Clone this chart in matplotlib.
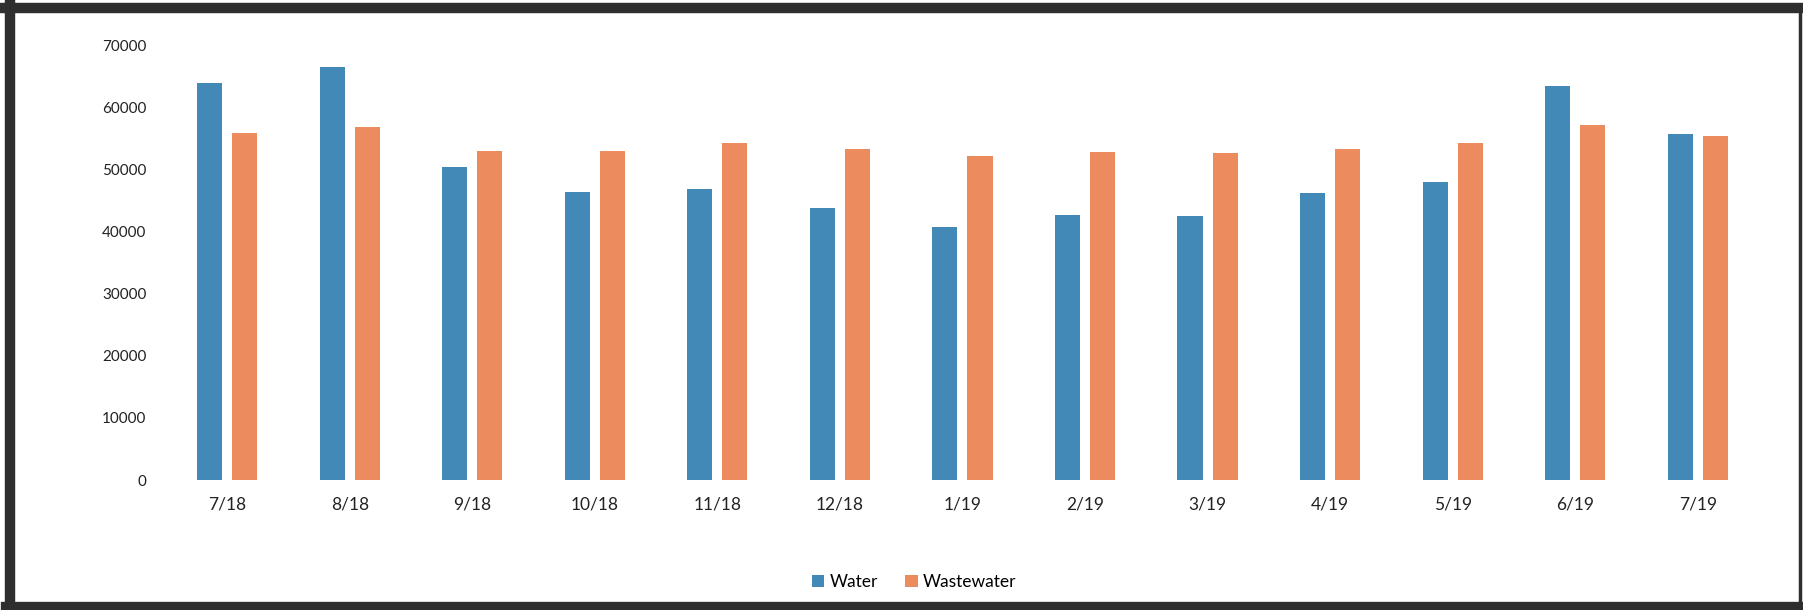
import numpy as np
import matplotlib.pyplot as plt
from matplotlib.lines import Line2D

months = ["7/18", "8/18", "9/18", "10/18", "11/18", "12/18", "1/19",
          "2/19", "3/19", "4/19", "5/19", "6/19", "7/19"]
water = [63900, 66500, 50400, 46400, 46900, 43800, 40800,
         42700, 42500, 46200, 48000, 63400, 55700]
wastewater = [55900, 56800, 53000, 53000, 54300, 53300, 52200,
              52800, 52600, 53300, 54300, 57200, 55400]
y_ticks = [0, 10000, 20000, 30000, 40000, 50000, 60000, 70000]

plt.rcParams["font.family"] = ["Lato", "DejaVu Sans"]

fig = plt.figure(figsize=(18.03, 6.10), dpi=100)
ax = fig.add_axes([0.092, 0.2131, 0.8836, 0.7129])

x = np.arange(len(months))
w = 0.205
ax.bar(x - 0.143, water, w, color="#4389b8", label="Water")
ax.bar(x + 0.143, wastewater, w, color="#ec8b5e", label="Wastewater")

ax.set_xlim(-0.5, len(months) - 0.5)
ax.set_ylim(0, 70000)
ax.set_yticks(y_ticks)
ax.set_yticklabels([str(t) for t in y_ticks], fontsize=11, color="#222222")
ax.set_xticks(x)
ax.set_xticklabels(months, fontsize=12.5, color="#222222")
ax.tick_params(length=0)
ax.tick_params(axis="y", pad=14)
ax.tick_params(axis="x", pad=12)
for s in ax.spines.values():
    s.set_visible(False)

fig.legend(loc="center", bbox_to_anchor=(0.507, 0.046), ncol=2, frameon=False,
           fontsize=12.5, handlelength=0.7, handleheight=0.7,
           handletextpad=0.3, columnspacing=1.6)

# dark frame of the scanned page: thick left/top, thinner bottom, thin right
frame = "#2e2e2e"
fig.lines.append(Line2D([0.0055, 0.0055], [0.003, 0.991], transform=fig.transFigure,
                        color=frame, linewidth=7.5))
fig.lines.append(Line2D([0.003, 0.9985], [0.987, 0.987], transform=fig.transFigure,
                        color=frame, linewidth=7.5))
fig.lines.append(Line2D([0.003, 0.999], [0.006, 0.006], transform=fig.transFigure,
                        color=frame, linewidth=6))
fig.lines.append(Line2D([0.9985, 0.9985], [0.003, 0.991], transform=fig.transFigure,
                        color=frame, linewidth=2.5))

fig.savefig("out.png", dpi=100, facecolor="white")
